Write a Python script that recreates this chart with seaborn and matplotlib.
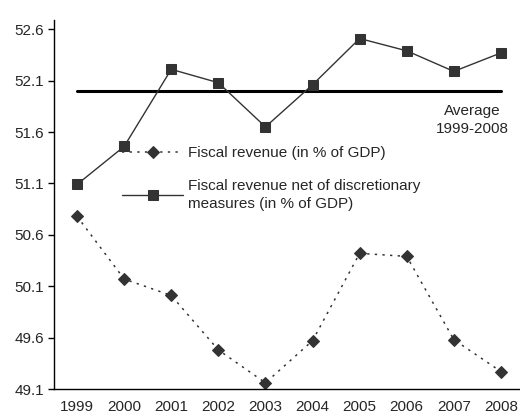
import matplotlib
matplotlib.use("Agg")
import matplotlib.pyplot as plt
import seaborn as sns
import numpy as np

# data
years = ["1999", "2000", "2001", "2002", "2003", "2004", "2005", "2006", "2007", "2008"]
fiscal_revenue = [50.78, 50.17, 50.01, 49.48, 49.16, 49.57, 50.42, 50.39, 49.58, 49.27]
fiscal_net = [51.09, 51.46, 52.21, 52.08, 51.65, 52.06, 52.51, 52.39, 52.19, 52.37]
average_value = 52.00
y_ticks = [49.1, 49.6, 50.1, 50.6, 51.1, 51.6, 52.1, 52.6]

sns.set_style("white")
plt.rcParams['font.family'] = ['Liberation Sans', 'DejaVu Sans']
fs = 11

fig = plt.figure(figsize=(5.2, 4.17), dpi=100)
ax = fig.add_axes([53.5 / 520, 1 - 389 / 417, 471 / 520, (389 - 20) / 417])

pos = np.arange(len(years))
dark = "#333333"

sns.lineplot(x=pos, y=fiscal_revenue, ax=ax, color=dark, linestyle=(0, (1.5, 3.5)), linewidth=1.1,
             marker="D", markersize=6.5, markeredgecolor=dark, markerfacecolor=dark,
             label="Fiscal revenue (in % of GDP)")
sns.lineplot(x=pos, y=fiscal_net, ax=ax, color=dark, linewidth=1.0,
             marker="s", markersize=7, markeredgecolor=dark, markerfacecolor=dark,
             label="Fiscal revenue net of discretionary\nmeasures (in % of GDP)")
ax.plot([pos[0], pos[-1]], [average_value, average_value], color="black", linewidth=2.2, zorder=1)

ax.text(8.39, 51.875, "Average\n1999-2008", ha="center", va="top", fontsize=fs, linespacing=1.4)

ax.set_xlim(-0.5, 9.5)
ax.set_ylim(49.1, 52.69)
ax.set_yticks(y_ticks)
ax.set_yticklabels([f"{v:.1f}" for v in y_ticks], fontsize=fs)
ax.set_xticks(pos)
ax.set_xticklabels(years, fontsize=fs)
ax.set_xticks(np.arange(len(years) + 1) - 0.5, minor=True)
ax.tick_params(axis="x", which="major", length=0, pad=8)
ax.tick_params(axis="x", which="minor", length=4, width=1, color="black", direction="out")
ax.tick_params(axis="y", length=4, width=1, color="black", direction="out", left=True, pad=3)

for side in ["top", "right"]:
    ax.spines[side].set_visible(False)
for side in ["left", "bottom"]:
    ax.spines[side].set_color("black")
    ax.spines[side].set_linewidth(1.0)

leg = ax.legend(loc="upper left", bbox_to_anchor=(122 / 520, 1 - 146 / 417), bbox_transform=fig.transFigure,
                frameon=False, fontsize=fs, handlelength=4.0, handletextpad=0.3, borderpad=0,
                borderaxespad=0, labelspacing=1.25)
for t in leg.get_texts():
    t.set_linespacing(1.4)

fig.savefig("out.png", dpi=100)
